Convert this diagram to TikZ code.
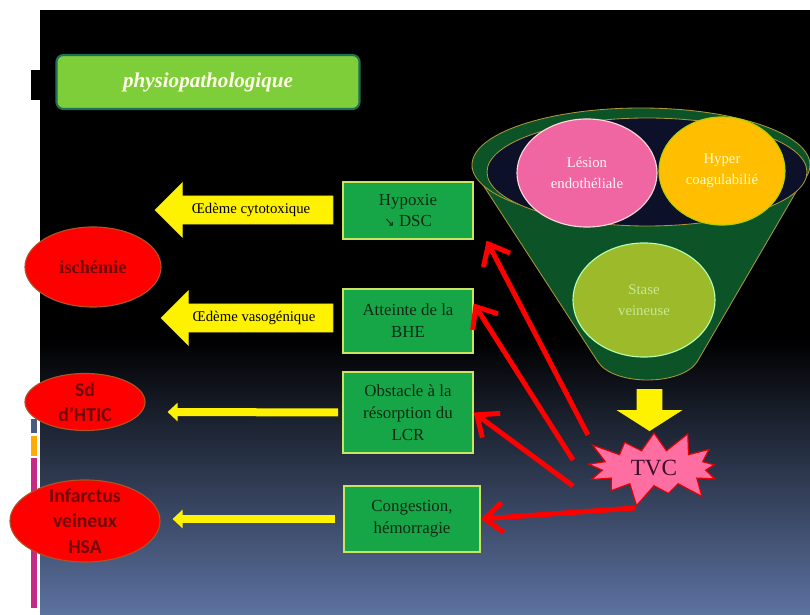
\documentclass[tikz,border=0pt]{standalone}
\usepackage{fontspec}
\setmainfont{Liberation Serif}
\setsansfont{Carlito}
\newfontfamily\arrowglyph{DejaVu Sans}
\usetikzlibrary{arrows.meta,positioning,calc,shapes.geometric,shapes.symbols,shapes.arrows}

\definecolor{boxgreen}{RGB}{22,166,72}
\definecolor{boxedge}{RGB}{200,228,96}
\definecolor{boxtext}{RGB}{18,40,18}
\definecolor{ovaledge}{RGB}{176,82,36}
\definecolor{ovaltext}{RGB}{110,10,10}
\definecolor{titlegreen}{RGB}{126,206,58}
\definecolor{titleedge}{RGB}{30,110,90}
\definecolor{funnelgreen}{RGB}{12,84,40}
\definecolor{funneledge}{RGB}{170,150,60}
\definecolor{funnelhole}{RGB}{12,16,40}
\definecolor{lesionpink}{RGB}{240,102,162}
\definecolor{hyperamber}{RGB}{255,190,0}
\definecolor{staseolive}{RGB}{156,186,42}
\definecolor{stasetext}{RGB}{200,232,150}
\definecolor{tvcpink}{RGB}{255,110,160}
\definecolor{tvctext}{RGB}{60,10,45}
\definecolor{bgblue}{RGB}{92,114,160}
\definecolor{bgnavy}{RGB}{22,28,44}

\begin{document}
\begin{tikzpicture}[x=0.025cm,y=-0.025cm,
    causebox/.style={draw=boxedge,fill=boxgreen,line width=0.9pt,align=center,
        minimum width=3.25cm,text=boxtext,inner sep=2pt,
        font=\fontsize{12}{15.5}\selectfont},
    effect/.style={ellipse,draw=ovaledge,fill=red,line width=0.8pt,inner sep=0pt},
    effecttext/.style={align=center,text=ovaltext,font=\sffamily\bfseries\fontsize{14}{18}\selectfont},
    factor/.style={ellipse,line width=0.8pt,inner sep=0pt},
    factortext/.style={align=center,font=\fontsize{10.5}{15}\selectfont},
    bigarrow/.style={single arrow,shape border rotate=180,fill=yellow,draw=yellow!85!black,
        single arrow head extend=0.3cm,inner xsep=1pt,inner ysep=4pt,
        font=\fontsize{10.5}{12}\selectfont,text=black},
    thinarrow/.style={-{Triangle[length=0.25cm,width=0.45cm]},draw=yellow,line width=0.2cm},
    redarrow/.style={-{Straight Barb[length=0.45cm,width=0.75cm]},draw=red,line width=0.125cm}
]
\useasboundingbox (0,0) rectangle (810,615);
% slide background
\fill[black] (40,10) rectangle (810,615);
\shade[top color=black,middle color=bgnavy,bottom color=bgblue] (40,340) rectangle (810,615);
\fill[black] (31,70) rectangle (40,100);
\fill[bgblue!80!black] (31,419) rectangle (37,433);
\fill[hyperamber!90!red] (31,436) rectangle (37,456);
\fill[magenta!80!black] (31,458) rectangle (37,608);

\node[draw=titleedge,fill=titlegreen,line width=1.5pt,rounded corners=5pt,
    minimum width=7.575cm,minimum height=1.35cm,text=yellow!10,
    font=\bfseries\itshape\fontsize{15}{18}\selectfont] (title) at (208,82)
    {physiopathologique};

% funnel
\fill[funnelgreen,draw=funneledge,line width=0.6pt] (472,168) -- (598,362)
    .. controls (614,386) and (681,386) .. (697,362) -- (810,168) -- cycle;
\draw[fill=funnelgreen,draw=funneledge,line width=0.6pt] (641,165) ellipse [x radius=169,y radius=57];
\draw[fill=funnelhole,draw=funneledge,line width=0.6pt] (647,172) ellipse [x radius=160,y radius=54];

\node[factor,fill=lesionpink,draw=pink!60!white,minimum width=3.5cm,minimum height=2.7cm,
    label={[factortext,text=pink!15!white]center:Lésion\\endothéliale}] (lesion) at (587,173) {};
\node[factor,fill=hyperamber,draw=hyperamber!70!green,minimum width=3.15cm,minimum height=2.7cm,
    label={[factortext,text=yellow!20!white]center:Hyper\\coagulabilié}] (hyper) at (722,171) {};
\node[factor,fill=staseolive,draw=green!30!white,minimum width=3.55cm,minimum height=2.85cm,
    label={[factortext,text=stasetext]center:Stase\\veineuse}] (stase) at (644,300) {};

% causes
\node[causebox,minimum height=1.425cm] (hypoxie) at (408,210.5)
    {Hypoxie\\{\arrowglyph\fontsize{9}{10}\selectfont ↘} DSC};
\node[causebox,minimum height=1.6cm] (atteinte) at (408,321)
    {Atteinte de la\\BHE};
\node[causebox,minimum height=2.025cm] (obstacle) at (408,412.5)
    {Obstacle à la\\résorption du\\LCR};
\node[causebox,minimum width=3.4cm,minimum height=1.65cm] (congestion) at (412,519)
    {Congestion,\\hémorragie};

% effects
\node[effect,minimum width=3.4cm,minimum height=2cm,
    label={[text=ovaltext,font=\bfseries\fontsize{13}{16}\selectfont]center:ischémie}] (ischemie) at (93,267) {};
\node[effect,minimum width=3cm,minimum height=1.425cm,
    label={[effecttext]center:Sd\\d’HTIC}] (htic) at (85,402) {};
\node[effect,minimum width=3.75cm,minimum height=2.05cm,
    label={[effecttext]center:Infarctus\\veineux\\HSA}] (infarctus) at (85,521) {};

% yellow arrows
\node[bigarrow,minimum height=4.45cm,minimum width=1.375cm] (cytotox) at (251,210) {Œdème cytotoxique};
\node[bigarrow,minimum height=4.3cm,minimum width=1.375cm] (vasogen) at (254,318) {Œdème vasogénique};
\draw[thinarrow,shorten <=3pt] (obstacle.west) -- ($(htic.east)+(22,10)$);
\draw[thinarrow,shorten <=6pt] (congestion.west) -- ($(infarctus.east)+(12,-2)$);

% TVC
\node[starburst,starburst points=13,starburst point height=0.6cm,fill=tvcpink,draw=red!90!black,
    line width=0.8pt,minimum width=3.8cm,minimum height=1.95cm,text=tvctext,
    font=\fontsize{16.5}{18}\selectfont] (tvc) at (654,468) {TVC};
\node[single arrow,shape border rotate=270,fill=yellow,minimum height=1.05cm,
    single arrow head extend=0.5cm,single arrow tip angle=115,
    inner xsep=0.3125cm,inner ysep=0pt] (down) at (649.5,406) {};

\coordinate (tvcA) at (588,435);
\coordinate (tvcB) at (573,460);
\coordinate (tvcC) at (573,486);
\coordinate (tvcD) at (635,508);
\draw[redarrow] (tvcA) -- ($(hypoxie.south east)+(13,1)$);
\draw[redarrow] (tvcB) -- (atteinte.15);
\draw[redarrow] (tvcC) -- (obstacle.east);
\draw[redarrow] (tvcD) -- (congestion.east);
\end{tikzpicture}
\end{document}
